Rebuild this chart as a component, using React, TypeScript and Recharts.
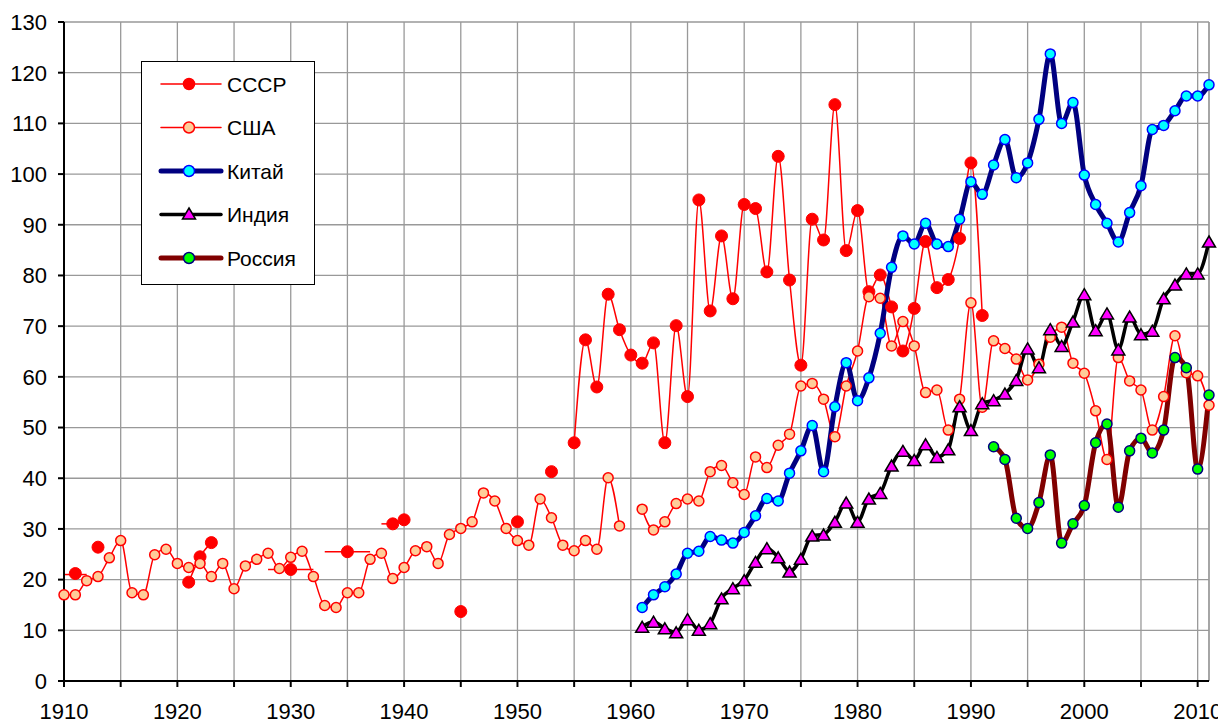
import {
  CartesianGrid,
  Legend,
  Line,
  LineChart,
  ReferenceLine,
  XAxis,
  YAxis,
} from "recharts";

// values; null = no data (line breaks there)
const ussrStart = 1910;
const ussrValues = [
  null, 21.2, null, 26.4, null, null, null, null, null, null, // 1910-1919
  null, 19.5, 24.5, 27.3, null, null, null, null, null, null, // 1920-1929
  22.0, null, null, null, null, 25.5, null, null, null, 31.0, // 1930-1939
  31.8, null, null, null, null, 13.7, null, null, null, null, // 1940-1949
  31.4, null, null, 41.3, null, 47.0, 67.3, 58.0, 76.3, 69.3, // 1950-1959
  64.3, 62.7, 66.7, 47.0, 70.1, 56.1, 94.9, 73.0, 87.8, 75.4, // 1960-1969
  94.0, 93.2, 80.7, 103.5, 79.1, 62.3, 91.1, 87.0, 113.7, 84.9, // 1970-1979
  92.8, 76.8, 80.1, 73.8, 65.1, 73.5, 86.7, 77.6, 79.2, 87.3, // 1980-1989
  102.2, 72.1, // 1990-1991
];

// USSR period averages, drawn as short horizontal strokes
const ussrAvgFrom = [1910, 1928, 1933, 1938];
const ussrAvgTo = [1912, 1932, 1937, 1939];
const ussrAvgValue = [21.0, 22.0, 25.5, 31.0];

const usaStart = 1910;
const usaValues = [
  17.0, 17.0, 19.8, 20.6, 24.3, 27.7, 17.4, 17.0, 24.9, 26.0, // 1910-1919
  23.2, 22.4, 23.2, 20.6, 23.2, 18.2, 22.7, 24.0, 25.2, 22.2, // 1920-1929
  24.4, 25.6, 20.6, 14.9, 14.5, 17.4, 17.4, 24.0, 25.2, 20.2, // 1930-1939
  22.4, 25.7, 26.5, 23.2, 28.9, 30.1, 31.4, 37.1, 35.5, 30.1, // 1940-1949
  27.7, 26.8, 35.9, 32.2, 26.8, 25.7, 27.7, 26.0, 40.1, 30.6, // 1950-1959
  null, 33.9, 29.8, 31.4, 35.0, 35.9, 35.5, 41.3, 42.5, 39.1, // 1960-1969
  36.8, 44.2, 42.1, 46.5, 48.7, 58.2, 58.7, 55.6, 48.2, 58.2, // 1970-1979
  65.1, 75.8, 75.5, 66.1, 70.9, 66.1, 56.9, 57.4, 49.5, 55.6, // 1980-1989
  74.6, 54.0, 67.1, 65.6, 63.5, 59.4, 62.5, 67.8, 69.8, 62.7, // 1990-1999
  60.7, 53.3, 43.7, 63.8, 59.2, 57.4, 49.5, 56.1, 68.1, 60.8, // 2000-2009
  60.2, 54.4, // 2010-2011
];

const chinaStart = 1961;
const chinaValues = [
  14.5, 17.0, 18.6, 21.1, 25.2, 25.6, 28.5, 27.8, 27.2, // 1961-1969
  29.3, 32.6, 36.0, 35.5, 41.0, 45.4, 50.4, 41.3, 54.1, 62.8, // 1970-1979
  55.3, 59.8, 68.6, 81.6, 87.8, 86.2, 90.3, 86.2, 85.7, 91.1, // 1980-1989
  98.5, 96.0, 101.8, 106.8, 99.3, 102.2, 110.8, 123.7, 110.0, 114.1, // 1990-1999
  99.8, 94.0, 90.3, 86.6, 92.4, 97.7, 108.8, 109.6, 112.5, 115.4, // 2000-2009
  115.4, 117.6, // 2010-2011
];

const indiaStart = 1961;
const indiaValues = [
  10.7, 11.7, 10.4, 9.6, 12.2, 10.1, 11.4, 16.3, 18.3, // 1961-1969
  19.9, 23.5, 26.2, 24.4, 21.6, 24.1, 28.7, 28.9, 31.4, 35.2, // 1970-1979
  31.4, 36.0, 37.1, 42.5, 45.4, 43.6, 46.7, 44.2, 45.7, 54.2, // 1980-1989
  49.5, 54.8, 55.4, 56.7, 59.4, 65.6, 61.9, 69.4, 66.1, 70.9, // 1990-1999
  76.3, 69.2, 72.5, 65.4, 71.9, 68.4, 69.1, 75.5, 78.2, 80.4, // 2000-2009
  80.4, 86.7, // 2010-2011
];

const russiaStart = 1992;
const russiaValues = [
  46.2, 43.7, 32.1, 30.1, 35.2, 44.6, 27.2, 31.0, // 1992-1999
  34.6, 47.0, 50.7, 34.3, 45.4, 47.9, 45.0, 49.5, 63.8, 61.8, // 2000-2009
  41.8, 56.4, // 2010-2011
];

const xTicks = [
  1910, 1915, 1920, 1925, 1930, 1935, 1940, 1945, 1950, 1955, 1960,
  1965, 1970, 1975, 1980, 1985, 1990, 1995, 2000, 2005, 2010,
];
const yTicks = [0, 10, 20, 30, 40, 50, 60, 70, 80, 90, 100, 110, 120, 130];

const FONT = '"Liberation Sans", Arial, sans-serif';

const toPoints = (start: number, values: (number | null)[]) =>
  values.map((v, i) => ({ year: start + i, v }));

const ussr = toPoints(ussrStart, ussrValues);
const usa = toPoints(usaStart, usaValues);
const china = toPoints(chinaStart, chinaValues);
const india = toPoints(indiaStart, indiaValues);
const russia = toPoints(russiaStart, russiaValues);

const triPath = (cx: number, cy: number, w = 13, h = 11) =>
  `M${cx},${cy - h / 2}L${cx + w / 2},${cy + h / 2}L${cx - w / 2},${cy + h / 2}Z`;

const TriangleDot = (p: any) => {
  const { cx, cy, index } = p;
  if (cx == null || cy == null || p.value == null) return <g key={`t${index}`} />;
  return (
    <path key={`t${index}`} d={triPath(cx, cy)} fill="#FF00FF" stroke="#000" strokeWidth={1.5} />
  );
};

const legendItems = [
  { name: "СССР", line: "#FF0000", lw: 1.5, shape: "circle", fill: "#FF0000", stroke: "#FF0000" },
  { name: "США", line: "#FF0000", lw: 1.5, shape: "circle", fill: "#FFCC99", stroke: "#FF0000" },
  { name: "Китай", line: "#000080", lw: 5, shape: "circle", fill: "#00FFFF", stroke: "#0000FF" },
  { name: "Индия", line: "#000000", lw: 3.5, shape: "triangle", fill: "#FF00FF", stroke: "#000" },
  { name: "Россия", line: "#800000", lw: 5, shape: "circle", fill: "#00FF00", stroke: "#000080" },
];

function LegendBox() {
  return (
    <div style={{ width: 174, height: 224, border: "1.5px solid #000", background: "#fff", boxSizing: "border-box" }}>
      <svg width={171} height={221}>
        {legendItems.map((it, i) => {
          const cy = 22 + i * 43.5;
          return (
            <g key={it.name}>
              <line x1={19} x2={79} y1={cy} y2={cy} stroke={it.line} strokeWidth={it.lw} strokeLinecap="round" />
              {it.shape === "circle" ? (
                <circle cx={47} cy={cy} r={5.5} fill={it.fill} stroke={it.stroke} strokeWidth={1.5} />
              ) : (
                <path d={triPath(47, cy - 1)} fill={it.fill} stroke={it.stroke} strokeWidth={1.5} />
              )}
              <text x={85} y={cy + 7.5} fontSize={21} fontFamily={FONT} fill="#000">
                {it.name}
              </text>
            </g>
          );
        })}
      </svg>
    </div>
  );
}

export default function App() {
  return (
    <LineChart
      width={1218}
      height={716}
      margin={{ top: 14, right: 17, bottom: 0, left: 0 }}
      style={{ fontFamily: FONT }}
    >
      <CartesianGrid stroke="#999" strokeWidth={1.3} />
      {/* labels sit right at the page bottom, as in the source image */}
      <XAxis
        type="number"
        dataKey="year"
        domain={[1910, 2011]}
        ticks={xTicks}
        interval={0}
        height={43}
        tickSize={6}
        tickMargin={16}
        tickFormatter={(v: number) => (v % 10 === 0 ? String(v) : "")}
        tick={{ fontSize: 22, fill: "#000" }}
        axisLine={{ stroke: "#000", strokeWidth: 2 }}
        tickLine={{ stroke: "#000", strokeWidth: 2 }}
      />
      <YAxis
        type="number"
        domain={[0, 130]}
        ticks={yTicks}
        interval={0}
        width={56}
        tickSize={6}
        tickMargin={11}
        tick={{ fontSize: 22, fill: "#000" }}
        axisLine={{ stroke: "#000", strokeWidth: 2 }}
        tickLine={{ stroke: "#000", strokeWidth: 2 }}
      />
      <ReferenceLine x={2011} stroke="#999" strokeWidth={1.3} />
      <Legend
        layout="vertical"
        align="center"
        verticalAlign="middle"
        wrapperStyle={{ left: 133, top: 53, width: 174, height: 224 }}
        content={() => <LegendBox />}
      />
      {ussrAvgFrom.map((from, i) => (
        <Line
          key={`avg${from}`}
          data={[
            { year: from, v: ussrAvgValue[i] },
            { year: ussrAvgTo[i], v: ussrAvgValue[i] },
          ]}
          dataKey="v"
          stroke="#FF0000"
          strokeWidth={1.5}
          dot={false}
          activeDot={false}
          legendType="none"
          isAnimationActive={false}
        />
      ))}
      <Line
        data={ussr}
        dataKey="v"
        name="СССР"
        type="monotone"
        stroke="#FF0000"
        strokeWidth={1.5}
        dot={{ r: 6, fill: "#FF0000", stroke: "#FF0000", strokeWidth: 1 }}
        isAnimationActive={false}
      />
      <Line
        data={usa}
        dataKey="v"
        name="США"
        type="monotone"
        stroke="#FF0000"
        strokeWidth={1.5}
        dot={{ r: 5, fill: "#FFCC99", stroke: "#FF0000", strokeWidth: 1.5 }}
        isAnimationActive={false}
      />
      <Line
        data={china}
        dataKey="v"
        name="Китай"
        type="monotone"
        stroke="#000080"
        strokeWidth={5}
        dot={{ r: 5, fill: "#00FFFF", stroke: "#0000FF", strokeWidth: 1.5 }}
        isAnimationActive={false}
      />
      <Line
        data={india}
        dataKey="v"
        name="Индия"
        type="monotone"
        stroke="#000000"
        strokeWidth={3.5}
        dot={TriangleDot}
        isAnimationActive={false}
      />
      <Line
        data={russia}
        dataKey="v"
        name="Россия"
        type="monotone"
        stroke="#800000"
        strokeWidth={5}
        dot={{ r: 5, fill: "#00FF00", stroke: "#000080", strokeWidth: 1.5 }}
        isAnimationActive={false}
      />
    </LineChart>
  );
}
